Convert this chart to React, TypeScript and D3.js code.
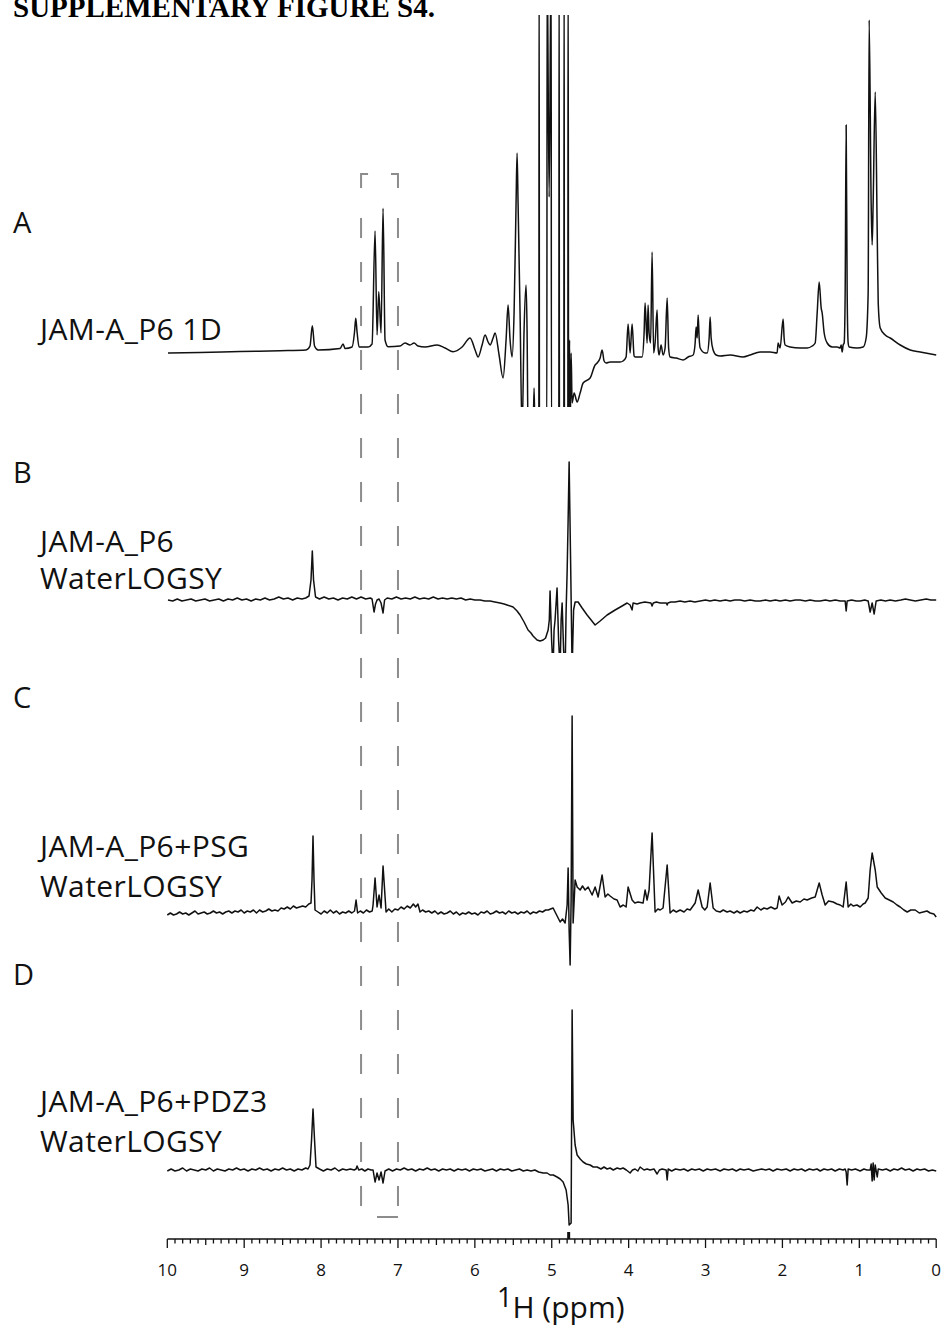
import * as d3 from 'd3';

// spectra: [ppm, intensity] (intensity in arbitrary units above baseline)
const spectrumA: [number, number][] = [
  [9.991, 0], [9.575, 0.5], [9.054, 1.5], [8.534, 2.3], [8.196, 3], [8.144, 7], [8.114, 27.3], [8.085, 7], [8.039, 3],
  [7.753, 4.5], [7.714, 9], [7.688, 4.5], [7.597, 6], [7.565, 21], [7.549, 34.7], [7.532, 21], [7.506, 6], [7.389, 6],
  [7.337, 9], [7.298, 122], [7.272, 18], [7.25, 61.3], [7.22, 20], [7.194, 144.7], [7.168, 13], [7.129, 6.3], [6.973, 7],
  [6.908, 10], [6.843, 8], [6.791, 10], [6.739, 7], [6.648, 6], [6.491, 8], [6.387, 5], [6.283, 1.3], [6.166, 6],
  [6.062, 15], [5.997, 3], [5.958, -4], [5.906, 8], [5.867, 18], [5.828, 11], [5.802, 8], [5.763, 15], [5.737, 20],
  [5.685, -2], [5.633, -25], [5.594, 13], [5.568, 48], [5.542, 13], [5.516, -4], [5.49, 40], [5.464, 150], [5.451, 200],
  [5.438, 150], [5.412, 40], [5.386, -80], [5.36, 23], [5.334, 68], [5.321, 23], [5.308, -80], [5.269, -80], [5.243, -80],
  [5.23, -35], [5.217, -80], [5.168, -80], [5.164, 400], [5.16, -80], [5.064, -80], [5.06, 400], [5.034, 156], [5.008, 400],
  [5.004, -80], [4.908, -80], [4.904, 400], [4.9, -80], [4.843, -80], [4.839, 400], [4.835, -80], [4.791, -80], [4.787, 400],
  [4.781, -80], [4.768, 13], [4.761, -80], [4.748, 0], [4.735, -50], [4.709, -40], [4.67, -49], [4.631, -40], [4.592, -30],
  [4.501, -25], [4.436, -12], [4.41, -10], [4.371, -5], [4.345, 3], [4.319, -8], [4.293, -10], [4.241, -9], [4.176, -9],
  [4.111, -9], [4.072, -8], [4.033, -4], [4.007, 29], [3.981, 0], [3.955, 29], [3.929, -3], [3.916, -4], [3.851, -4],
  [3.825, -4], [3.799, 20], [3.786, 50], [3.76, 10], [3.747, 48], [3.734, 20], [3.714, 10], [3.695, 101], [3.675, 0],
  [3.656, 10], [3.63, 43], [3.617, 5], [3.604, -2], [3.578, 8], [3.552, -2], [3.526, 5], [3.499, 55], [3.48, 5],
  [3.461, -4], [3.383, -5], [3.292, -7], [3.226, -4], [3.161, -2], [3.135, 10], [3.122, 26], [3.109, 15], [3.096, 38],
  [3.083, 15], [3.07, 5], [3.005, 0], [2.979, 0], [2.953, 15], [2.94, 36], [2.927, 15], [2.901, 3], [2.862, -2],
  [2.81, -3], [2.68, -2], [2.511, -4], [2.42, -2], [2.29, 1], [2.16, 1], [2.069, 0], [2.056, 10], [2.03, 5], [1.991, 34],
  [1.978, 15], [1.965, 8], [1.9, 6], [1.769, 5], [1.678, 5], [1.613, 7], [1.574, 10], [1.548, 40], [1.522, 71],
  [1.496, 45], [1.483, 40], [1.457, 20], [1.418, 10], [1.353, 6], [1.288, 6], [1.249, 5], [1.236, 8], [1.223, 1],
  [1.21, 8], [1.197, 10], [1.184, 60], [1.171, 228], [1.158, 60], [1.145, 10], [1.132, 6], [1.028, 5], [0.95, 6],
  [0.911, 15], [0.885, 60], [0.872, 333], [0.846, 150], [0.833, 108], [0.82, 150], [0.793, 261], [0.767, 120],
  [0.754, 50], [0.728, 25], [0.663, 18], [0.598, 15], [0.468, 8], [0.338, 3], [0.208, 1], [0, -2],
];

const spectrumB: [number, number][] = [
  [9.991, 0], [9.93, -1], [9.87, 1], [9.81, -1], [9.75, 0], [9.69, 1], [9.63, -1], [9.57, 0], [9.51, 1], [9.45, -1],
  [9.39, 0], [9.33, 1], [9.27, -1], [9.21, 1], [9.15, 0], [9.09, 2], [9.03, 0], [8.97, 1], [8.91, -1], [8.85, 1],
  [8.79, 0], [8.73, 2], [8.67, 0], [8.61, 1], [8.55, 3], [8.49, 1], [8.43, 2], [8.37, 0], [8.31, 2], [8.25, 1],
  [8.2, 2], [8.157, 4], [8.131, 20], [8.114, 49], [8.098, 20], [8.072, 3], [8.02, 1], [7.96, 3], [7.9, 1], [7.84, 2],
  [7.78, 0], [7.72, 2], [7.66, 1], [7.6, 3], [7.54, 1], [7.48, 3], [7.42, 1], [7.36, 2], [7.337, 1], [7.311, -12],
  [7.292, -4], [7.272, 0], [7.246, 1], [7.22, -3], [7.194, -13], [7.174, 0], [7.14, 2], [7.08, 1], [7.02, 3], [6.96, 1],
  [6.9, 2], [6.84, 1], [6.78, 3], [6.72, 1], [6.66, 2], [6.6, 1], [6.54, 3], [6.48, 1], [6.42, 2], [6.36, 1], [6.3, 2],
  [6.24, 1], [6.18, 2], [6.12, 0], [6.06, 1], [6.0, 0], [5.932, 0], [5.87, -1], [5.802, -1], [5.74, -2], [5.672, -3],
  [5.62, -4], [5.581, -5], [5.503, -7], [5.451, -11], [5.412, -15], [5.36, -22], [5.308, -30], [5.27, -33],
  [5.243, -36], [5.191, -40], [5.152, -41], [5.112, -40], [5.08, -38], [5.047, -30], [5.032, -20], [5.022, 9],
  [5.002, -40], [4.983, -70], [4.97, -30], [4.957, -20], [4.931, 12], [4.911, -40], [4.891, -70], [4.878, -20],
  [4.865, -3], [4.846, -50], [4.826, -70], [4.813, -10], [4.8, 28], [4.787, 80], [4.774, 138], [4.755, 40],
  [4.735, -70], [4.716, -10], [4.696, -2], [4.657, -2], [4.605, -8], [4.54, -15], [4.488, -20], [4.436, -25],
  [4.371, -21], [4.28, -15], [4.176, -10], [4.085, -6], [4.02, -3], [3.981, -5], [3.955, -10], [3.942, -3],
  [3.89, -4], [3.851, -3], [3.79, -2], [3.71, -3], [3.695, -6], [3.68, -3], [3.64, -2], [3.59, -3], [3.51, -3],
  [3.499, -5], [3.49, -3], [3.45, -2], [3.396, -2], [3.33, -1], [3.27, -2], [3.2, -1], [3.14, -2], [3.07, -1],
  [3.0, 0], [2.94, -1], [2.88, 0], [2.81, -1], [2.74, 0], [2.68, -1], [2.62, 0], [2.55, 0], [2.49, -1], [2.42, 0],
  [2.35, -1], [2.29, -1], [2.22, 0], [2.16, -1], [2.09, 0], [2.029, -1], [1.96, 0], [1.9, -1], [1.83, 0], [1.769, 0],
  [1.7, -1], [1.64, 0], [1.57, -1], [1.509, -1], [1.44, 0], [1.38, -1], [1.31, 0], [1.249, -1], [1.184, -1],
  [1.171, -11], [1.158, -1], [1.1, 0], [1.04, -1], [0.989, -1], [0.93, 0], [0.885, -1], [0.859, -12], [0.833, -3],
  [0.807, -14], [0.781, -1], [0.72, 0], [0.66, -1], [0.598, 0], [0.53, -1], [0.46, 0], [0.4, 1], [0.338, 0],
  [0.27, -1], [0.2, 0], [0.13, 1], [0.07, 0], [0, 0],
];

const spectrumC: [number, number][] = [
  [10, -2], [9.96, 0], [9.92, -2], [9.88, -1], [9.84, 1], [9.8, -1], [9.76, 0], [9.72, -2], [9.68, 0], [9.64, 2],
  [9.6, -1], [9.56, 0], [9.52, 1], [9.48, -1], [9.44, 0], [9.4, 2], [9.36, 0], [9.32, 1], [9.28, -1], [9.24, 1],
  [9.2, 2], [9.16, 0], [9.12, 2], [9.08, 1], [9.04, 3], [9.0, 0], [8.96, 2], [8.92, 1], [8.88, 3], [8.84, 0],
  [8.8, 3], [8.76, 1], [8.72, 2], [8.68, 4], [8.64, 2], [8.6, 3], [8.56, 2], [8.52, 5], [8.48, 4], [8.44, 6],
  [8.4, 4], [8.36, 7], [8.32, 5], [8.28, 6], [8.24, 7], [8.2, 6], [8.16, 9], [8.131, 10], [8.118, 33], [8.105, 77],
  [8.092, 33], [8.079, 3], [8.04, 1], [8.0, -1], [7.96, 2], [7.92, 0], [7.88, 3], [7.84, 0], [7.8, 2], [7.76, -1],
  [7.72, 1], [7.68, 0], [7.64, 2], [7.6, 0], [7.565, 2], [7.545, 13], [7.525, 0], [7.49, 2], [7.45, 0], [7.41, 3],
  [7.37, 1], [7.335, 2], [7.324, 8], [7.298, 35], [7.272, 6], [7.246, 18], [7.22, 5], [7.194, 47], [7.155, 1],
  [7.12, 4], [7.08, 1], [7.04, 4], [7.0, 3], [6.96, 6], [6.92, 4], [6.88, 7], [6.84, 5], [6.8, 9], [6.77, 6],
  [6.74, 9], [6.713, 1], [6.68, 3], [6.64, 1], [6.6, 2], [6.56, 0], [6.52, 2], [6.48, -1], [6.44, 1], [6.4, -1],
  [6.36, 0], [6.32, 2], [6.28, -1], [6.24, 1], [6.2, -2], [6.16, 0], [6.12, -1], [6.08, 1], [6.04, -1], [6.0, 0],
  [5.96, -2], [5.92, 1], [5.88, 0], [5.84, 2], [5.8, -1], [5.76, 0], [5.72, 2], [5.68, 0], [5.64, 1], [5.6, -1],
  [5.56, 2], [5.52, 0], [5.48, 1], [5.44, -1], [5.4, 1], [5.36, 0], [5.32, 2], [5.28, -1], [5.24, 1], [5.2, 0],
  [5.16, 2], [5.12, 1], [5.08, 3], [5.047, 3], [4.982, 5], [4.95, 0], [4.917, -5], [4.891, -9], [4.86, -6],
  [4.826, -10], [4.8, 8], [4.787, 45], [4.774, -17], [4.761, -52], [4.748, 13], [4.735, 197], [4.722, -10],
  [4.696, 33], [4.67, 26], [4.631, 23], [4.6, 27], [4.566, 23], [4.527, 26], [4.475, 18], [4.436, 26], [4.397, 16],
  [4.345, 38], [4.306, 16], [4.27, 19], [4.241, 17], [4.19, 14], [4.15, 13], [4.111, 6], [4.07, 8], [4.033, 6],
  [4.007, 26], [3.955, 13], [3.92, 10], [3.877, 11], [3.812, 10], [3.786, 23], [3.76, 13], [3.734, 23], [3.695, 80],
  [3.656, 1], [3.62, 4], [3.59, 3], [3.552, 5], [3.499, 48], [3.461, 0], [3.42, 3], [3.38, 1], [3.33, 3], [3.28, 1],
  [3.24, 4], [3.2, 3], [3.135, 10], [3.096, 23], [3.044, 6], [3.01, 3], [2.979, 6], [2.94, 30], [2.901, 5],
  [2.86, 2], [2.81, 1], [2.77, 3], [2.72, 1], [2.68, 2], [2.63, 0], [2.59, 2], [2.55, 0], [2.5, 2], [2.459, 1],
  [2.41, 3], [2.37, 2], [2.329, 6], [2.28, 3], [2.24, 5], [2.199, 4], [2.15, 6], [2.1, 4], [2.069, 5], [2.043, 17],
  [2.004, 8], [1.96, 11], [1.925, 16], [1.873, 10], [1.82, 12], [1.769, 11], [1.72, 14], [1.678, 13], [1.62, 15],
  [1.574, 16], [1.522, 30], [1.483, 18], [1.444, 8], [1.4, 12], [1.34, 11], [1.29, 9], [1.249, 8], [1.21, 6],
  [1.171, 31], [1.145, 6], [1.11, 9], [1.08, 7], [1.03, 8], [0.989, 6], [0.95, 9], [0.924, 10], [0.885, 15],
  [0.859, 43], [0.833, 60], [0.793, 43], [0.767, 26], [0.715, 20], [0.663, 15], [0.61, 13], [0.559, 11], [0.51, 8],
  [0.468, 6], [0.42, 3], [0.377, 1], [0.33, 3], [0.273, 3], [0.22, 0], [0.169, 1], [0.12, 2], [0.078, 0], [0.03, -1],
  [0, -4],
];

const spectrumD: [number, number][] = [
  [10, -1], [9.95, 1], [9.9, -1], [9.85, 0], [9.8, 2], [9.75, -1], [9.7, 1], [9.65, 0], [9.6, -1], [9.55, 1],
  [9.5, 0], [9.45, 2], [9.4, -1], [9.35, 1], [9.3, 0], [9.25, -1], [9.2, 1], [9.15, 0], [9.1, 2], [9.05, 0],
  [9.0, 1], [8.95, -1], [8.9, 1], [8.85, 0], [8.8, 2], [8.75, 0], [8.7, 1], [8.65, -1], [8.6, 1], [8.55, 0],
  [8.5, 2], [8.45, 0], [8.4, 1], [8.35, -1], [8.3, 1], [8.25, 0], [8.2, 2], [8.17, 1], [8.144, 5], [8.124, 30],
  [8.105, 61], [8.085, 30], [8.066, 3], [8.02, 1], [7.97, -1], [7.92, 1], [7.87, 0], [7.82, 2], [7.77, -1],
  [7.72, 1], [7.67, 0], [7.62, 1], [7.57, 0], [7.545, 1], [7.532, 4], [7.51, 0], [7.47, 1], [7.43, -1], [7.39, 1],
  [7.35, 0], [7.324, 0], [7.298, -12], [7.272, -3], [7.246, -10], [7.22, -2], [7.194, -13], [7.168, -1], [7.12, 1],
  [7.07, -1], [7.02, 1], [6.97, 0], [6.92, 2], [6.87, 0], [6.82, 1], [6.77, -1], [6.72, 1], [6.67, 0], [6.62, 2],
  [6.57, 0], [6.52, 1], [6.47, -1], [6.42, 1], [6.37, 0], [6.32, 1], [6.27, -1], [6.22, 1], [6.17, 0], [6.12, 1],
  [6.07, -1], [6.02, 1], [5.97, 0], [5.92, 1], [5.87, -1], [5.82, 0], [5.77, 1], [5.72, -1], [5.67, 1], [5.62, 0],
  [5.57, 1], [5.52, -1], [5.47, 0], [5.42, 1], [5.37, -1], [5.32, 0], [5.27, -1], [5.22, 0], [5.17, -2], [5.112, -3],
  [5.06, -3], [5.022, -5], [4.98, -5], [4.931, -7], [4.89, -9], [4.852, -12], [4.813, -20], [4.787, -35],
  [4.774, -55], [4.748, -53], [4.735, 160], [4.722, 50], [4.696, 25], [4.67, 15], [4.63, 11], [4.592, 8],
  [4.55, 6], [4.501, 5], [4.46, 3], [4.41, 3], [4.36, 1], [4.32, 3], [4.28, 1], [4.241, 2], [4.2, 0], [4.15, 2],
  [4.11, 1], [4.072, 2], [4.03, 0], [3.981, -3], [3.95, 0], [3.916, 1], [3.88, -1], [3.851, 3], [3.8, 0], [3.76, 1],
  [3.721, 0], [3.67, 1], [3.63, -4], [3.6, 0], [3.565, 1], [3.512, 0], [3.499, -10], [3.486, 1], [3.44, -1],
  [3.39, 1], [3.33, 0], [3.28, 1], [3.23, -1], [3.18, 1], [3.135, 0], [3.08, 1], [3.03, -1], [2.979, 1], [2.93, 0],
  [2.87, 1], [2.81, -1], [2.76, 1], [2.7, 0], [2.65, 1], [2.6, -1], [2.55, 1], [2.5, 0], [2.44, 1], [2.38, -1],
  [2.329, 0], [2.27, 1], [2.22, 0], [2.17, 1], [2.121, -1], [2.07, 1], [2.01, 0], [1.95, 1], [1.9, -1], [1.85, 1],
  [1.8, 0], [1.75, 1], [1.704, -1], [1.65, 1], [1.6, 0], [1.55, 1], [1.509, -1], [1.46, 1], [1.41, 0], [1.36, 1],
  [1.314, -1], [1.26, 1], [1.21, 0], [1.184, 1], [1.171, -2], [1.158, -15], [1.145, 1], [1.1, 0], [1.05, 1],
  [0.989, -1], [0.94, 1], [0.9, 0], [0.859, 0], [0.846, 6], [0.833, -11], [0.82, 7], [0.807, -10], [0.793, 5],
  [0.767, -7], [0.754, 1], [0.7, 0], [0.65, 1], [0.598, -1], [0.55, 1], [0.5, 0], [0.45, 2], [0.403, 0], [0.35, 1],
  [0.3, -1], [0.25, 1], [0.208, 0], [0.15, 1], [0.1, -1], [0.05, 0], [0, -1],
];

const panelLetters = ['A', 'B', 'C', 'D'];
const sampleLabels = [
  ['JAM-A_P6 1D'],
  ['JAM-A_P6', 'WaterLOGSY'],
  ['JAM-A_P6+PSG', 'WaterLOGSY'],
  ['JAM-A_P6+PDZ3', 'WaterLOGSY'],
];
const majorTicks = [10, 9, 8, 7, 6, 5, 4, 3, 2, 1, 0];
const minorTicks = d3.range(0, 101).map(i => i / 10);
const boxPpm = [7.48, 7.0]; // highlighted aromatic window
const titleText = 'SUPPLEMENTARY FIGURE S4.';

const W = 948;
const H = 1328;
const FONT = '"Open Sans", "Noto Sans", sans-serif';

// vertical layout of the four stacked traces
const panels = [
  { data: spectrumA, baseline: 353, clip: [15, 407], letterY: 233, labelY: [340], smooth: true },
  { data: spectrumB, baseline: 600, clip: [440, 653], letterY: 483, labelY: [552, 589], smooth: false },
  { data: spectrumC, baseline: 913, clip: [700, 980], letterY: 708, labelY: [857, 897], smooth: false },
  { data: spectrumD, baseline: 1170, clip: [990, 1230], letterY: 985, labelY: [1112, 1152], smooth: false },
];

export default function App() {
  const x = d3.scaleLinear().domain([10, 0]).range([167.3, 936.2]);
  const axisY = 1239;

  const boxL = x(boxPpm[0]);
  const boxR = x(boxPpm[1]);

  return (
    <svg width={W} height={H} viewBox={`0 0 ${W} ${H}`}
      style={{ position: 'absolute', left: 0, top: 0, background: '#fff' }}>
      <defs>
        {panels.map((p, i) => (
          <clipPath id={`clip${i}`} key={i}>
            <rect x={150} y={p.clip[0]} width={800} height={p.clip[1] - p.clip[0]} />
          </clipPath>
        ))}
      </defs>

      <text x={13} y={17} fontFamily='"Liberation Serif", "Times New Roman", serif' fontWeight="bold" fontSize={29}>
        {titleText}
      </text>

      {/* dashed window around 7.0-7.5 ppm */}
      <g stroke="#8c8c8c" strokeWidth={2} fill="none">
        <path d={`M${boxL},188 L${boxL},174 L${boxL + 7},174`} />
        <path d={`M${boxR - 7},174 L${boxR},174 L${boxR},188`} />
        <line x1={boxL} x2={boxL} y1={218} y2={1206} strokeDasharray="20 24" />
        <line x1={boxR} x2={boxR} y1={218} y2={1210} strokeDasharray="20 24" />
        <line x1={boxR - 21} x2={boxR} y1={1217} y2={1217} />
      </g>

      {panels.map((p, i) => {
        const y = d3.scaleLinear().domain([0, 100]).range([p.baseline, p.baseline - 100]);
        const line = d3.line<[number, number]>().x(d => x(d[0])).y(d => y(d[1]))
          .curve(p.smooth ? d3.curveMonotoneX : d3.curveLinear);
        return (
          <g key={i}>
            <text x={13} y={p.letterY} fontFamily={FONT} fontSize={29} fill="#111">{panelLetters[i]}</text>
            {sampleLabels[i].map((s, j) => (
              <text key={j} x={40} y={p.labelY[j]} fontFamily={FONT} fontSize={30} letterSpacing={0.4} fill="#111">{s}</text>
            ))}
            <path d={line(p.data) || ''} fill="none" stroke="#111" strokeWidth={1.5}
              strokeLinejoin="round" clipPath={`url(#clip${i})`} />
          </g>
        );
      })}

      {/* ppm axis */}
      <g stroke="#111" strokeWidth={1.3}>
        <line x1={x(10)} x2={x(0)} y1={axisY} y2={axisY} />
        {minorTicks.map(t => {
          const major = Math.abs(t - Math.round(t)) < 1e-6;
          const half = Math.abs(t * 2 - Math.round(t * 2)) < 1e-6;
          const len = major ? 9 : half ? 6 : 4.5;
          return <line key={t} x1={x(t)} x2={x(t)} y1={axisY} y2={axisY + len} />;
        })}
        <line x1={x(4.78)} x2={x(4.78)} y1={1232} y2={axisY} strokeWidth={3} />
      </g>
      {majorTicks.map(t => (
        <text key={t} x={x(t)} y={1276} textAnchor="middle" fontFamily={FONT} fontSize={17} fill="#111">{t}</text>
      ))}
      <text x={497} y={1318} fontFamily={FONT} fill="#111">
        <tspan fontSize={27} dy={-11}>1</tspan>
        <tspan fontSize={30} dy={11}>H (ppm)</tspan>
      </text>
    </svg>
  );
}
